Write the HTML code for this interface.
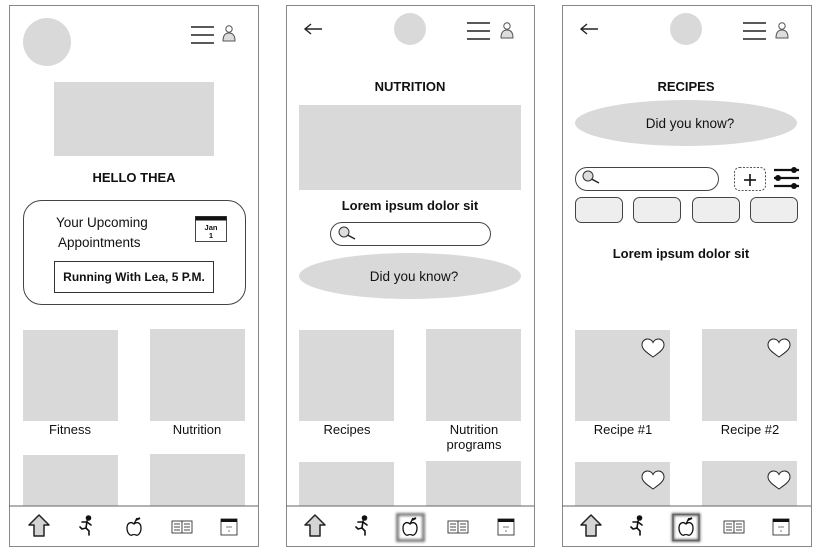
<!DOCTYPE html>
<html><head><meta charset="utf-8"><style>
html,body{margin:0;padding:0;background:#fff;width:819px;height:554px;overflow:hidden}
svg{display:block}
text{font-family:"Liberation Sans",sans-serif;fill:#111}
</style></head><body>
<svg width="819" height="554" viewBox="0 0 819 554" xmlns="http://www.w3.org/2000/svg">
<defs>
<filter id="bl" x="-50%" y="-50%" width="200%" height="200%"><feGaussianBlur stdDeviation="1.2"/></filter>
<g id="ham"><line x1="0" y1="0" x2="23" y2="0" stroke="#222" stroke-width="1.6"/><line x1="0" y1="8" x2="23" y2="8" stroke="#222" stroke-width="1.6"/><line x1="0" y1="16" x2="23" y2="16" stroke="#222" stroke-width="1.6"/></g>
<g id="person"><circle cx="0" cy="-6" r="3.2" fill="#fff" stroke="#555" stroke-width="1"/><path d="M-6,6 Q-6,-2 0,-2 Q6,-2 6,6 Z" fill="#ddd" stroke="#555" stroke-width="1"/></g>
<g id="back"><line x1="0" y1="0" x2="17" y2="0" stroke="#222" stroke-width="1.4"/><polyline points="6,-5 0,0 6,5" fill="none" stroke="#222" stroke-width="1.4"/></g>
<g id="house"><path d="M0,-11 L10,-1 L5,-1 L5,10 L-5,10 L-5,-1 L-10,-1 Z" fill="#d4d4d4" stroke="#222" stroke-width="1.5" stroke-linejoin="round"/></g>
<g id="run" stroke="#111" stroke-width="1.6" fill="none" stroke-linecap="round"><circle cx="1.5" cy="-8" r="2" fill="#111"/><line x1="0" y1="-5" x2="-1" y2="2"/><polyline points="-5,-4 0,-4 4,-1"/><polyline points="-1,2 -5,3 -7,1"/><polyline points="-1,2 2,5 2,9"/></g>
<g id="apple" fill="none" stroke="#111" stroke-width="1.3"><path d="M0,-3 C-3,-6 -7,-4 -7,1 C-7,6 -4,9 -2,8 C-1,7.5 1,7.5 2,8 C4,9 7,6 7,1 C7,-4 3,-6 0,-3 Z"/><line x1="0" y1="-3" x2="3" y2="-9"/><path d="M2,-7 L6,-9" stroke-width="2"/></g>
<g id="book" fill="#fff" stroke="#333" stroke-width="0.9"><rect x="-10" y="-6" width="10" height="12"/><rect x="0" y="-6" width="10" height="12"/><line x1="-8" y1="-3" x2="-2" y2="-3"/><line x1="-8" y1="0" x2="-2" y2="0"/><line x1="-8" y1="3" x2="-2" y2="3"/><line x1="2" y1="-3" x2="8" y2="-3"/><line x1="2" y1="0" x2="8" y2="0"/><line x1="2" y1="3" x2="8" y2="3"/></g>
<g id="cal"><rect x="-8" y="-8" width="16" height="16" fill="#fff" stroke="#333" stroke-width="0.9"/><rect x="-8" y="-8" width="16" height="3" fill="#111"/><line x1="-3" y1="0" x2="3" y2="0" stroke="#555" stroke-width="0.8"/><line x1="0" y1="3" x2="0" y2="5" stroke="#555" stroke-width="0.8"/></g>
<g id="heart"><path d="M0,9 C-4,6 -11,2 -11,-3 C-11,-7 -8,-9 -5.5,-9 C-3,-9 -1,-7.5 0,-5.5 C1,-7.5 3,-9 5.5,-9 C8,-9 11,-7 11,-3 C11,2 4,6 0,9 Z" fill="#fff" stroke="#222" stroke-width="1"/></g>
<g id="mag"><circle cx="0" cy="0" r="5" fill="#ddd" stroke="#333" stroke-width="1"/><line x1="3.5" y1="3" x2="11" y2="7" stroke="#222" stroke-width="1.4"/></g>
</defs>

<!-- Frame 1 -->
<rect x="9.5" y="5.5" width="249" height="541" fill="#fff" stroke="#888" stroke-width="1"/>
<circle cx="47" cy="42" r="24" fill="#d9d9d9"/>
<use href="#ham" x="191" y="27"/>
<use href="#person" x="229" y="35"/>
<rect x="54" y="82" width="160" height="74" fill="#d9d9d9"/>
<text x="134" y="182" font-size="13" font-weight="bold" text-anchor="middle">HELLO THEA</text>
<rect x="23.5" y="200.5" width="222" height="104" rx="18" fill="#fff" stroke="#444" stroke-width="1"/>
<text x="56" y="227" font-size="13.5">Your Upcoming</text>
<text x="58" y="247" font-size="13.5">Appointments</text>
<rect x="195.5" y="216.5" width="31" height="25" fill="#fff" stroke="#333" stroke-width="0.9"/>
<rect x="195.5" y="216.5" width="31" height="4" fill="#111"/>
<text x="211" y="230" font-size="7.5" font-weight="bold" text-anchor="middle">Jan</text>
<text x="211" y="238" font-size="7.5" font-weight="bold" text-anchor="middle">1</text>
<rect x="54.5" y="261.5" width="159" height="31" fill="#fff" stroke="#333" stroke-width="1"/>
<text x="134" y="281" font-size="12" font-weight="bold" text-anchor="middle">Running With Lea, 5 P.M.</text>
<rect x="23" y="330" width="95" height="91" fill="#d9d9d9"/>
<rect x="150" y="329" width="95" height="92" fill="#d9d9d9"/>
<text x="70" y="434" font-size="13" text-anchor="middle">Fitness</text>
<text x="197" y="434" font-size="13" text-anchor="middle">Nutrition</text>
<rect x="23" y="455" width="95" height="51" fill="#d9d9d9"/>
<rect x="150" y="454" width="95" height="52" fill="#d9d9d9"/>
<line x1="9" y1="506" x2="258" y2="506" stroke="#666" stroke-width="1"/>
<use href="#house" x="39" y="526"/>
<use href="#run" x="87" y="526"/>
<use href="#apple" x="134" y="527"/>
<use href="#book" x="182" y="527"/>
<use href="#cal" x="229" y="527"/>

<!-- Frame 2 -->
<rect x="286.5" y="5.5" width="248" height="541" fill="#fff" stroke="#888" stroke-width="1"/>
<use href="#back" x="305" y="29"/>
<circle cx="410" cy="29" r="16" fill="#d9d9d9"/>
<use href="#ham" x="467" y="23"/>
<use href="#person" x="507" y="32"/>
<text x="410" y="91" font-size="13" font-weight="bold" text-anchor="middle">NUTRITION</text>
<rect x="299" y="105" width="222" height="85" fill="#d9d9d9"/>
<text x="410" y="210" font-size="13" font-weight="bold" text-anchor="middle">Lorem ipsum dolor sit</text>
<rect x="330.5" y="222.5" width="160" height="23" rx="11.5" fill="#fff" stroke="#444" stroke-width="1"/>
<use href="#mag" x="344" y="232"/>
<ellipse cx="410" cy="276" rx="111" ry="23" fill="#d9d9d9"/>
<text x="414" y="281" font-size="13.5" text-anchor="middle">Did you know?</text>
<rect x="299" y="330" width="95" height="91" fill="#d9d9d9"/>
<rect x="426" y="329" width="95" height="92" fill="#d9d9d9"/>
<text x="347" y="434" font-size="13" text-anchor="middle">Recipes</text>
<text x="474" y="434" font-size="13" text-anchor="middle">Nutrition</text>
<text x="474" y="449" font-size="13" text-anchor="middle">programs</text>
<rect x="299" y="462" width="95" height="44" fill="#d9d9d9"/>
<rect x="426" y="461" width="95" height="45" fill="#d9d9d9"/>
<line x1="286" y1="506" x2="534" y2="506" stroke="#666" stroke-width="1"/>
<use href="#house" x="315" y="526"/>
<use href="#run" x="363" y="526"/>
<rect x="397.5" y="514.5" width="26" height="26" fill="none" stroke="#777" stroke-width="3" filter="url(#bl)"/>
<use href="#apple" x="410" y="527"/>
<use href="#book" x="458" y="527"/>
<use href="#cal" x="506" y="527"/>

<!-- Frame 3 -->
<rect x="562.5" y="5.5" width="249" height="541" fill="#fff" stroke="#888" stroke-width="1"/>
<use href="#back" x="581" y="29"/>
<circle cx="686" cy="29" r="16" fill="#d9d9d9"/>
<use href="#ham" x="743" y="23"/>
<use href="#person" x="782" y="32"/>
<text x="686" y="91" font-size="13" font-weight="bold" text-anchor="middle">RECIPES</text>
<ellipse cx="686" cy="123" rx="111" ry="23" fill="#d9d9d9"/>
<text x="690" y="128" font-size="13.5" text-anchor="middle">Did you know?</text>
<rect x="575.5" y="167.5" width="143" height="23" rx="11.5" fill="#fff" stroke="#444" stroke-width="1"/>
<use href="#mag" x="588" y="176"/>
<rect x="734.5" y="167.5" width="31" height="23" rx="5" fill="#fff" stroke="#555" stroke-width="1" stroke-dasharray="2,1.5"/>
<line x1="744" y1="180" x2="756" y2="180" stroke="#111" stroke-width="1.6"/>
<line x1="750" y1="174" x2="750" y2="186" stroke="#111" stroke-width="1.6"/>
<g stroke="#111" stroke-width="2.2"><line x1="774" y1="170" x2="799" y2="170"/><line x1="774" y1="178" x2="799" y2="178"/><line x1="774" y1="186" x2="799" y2="186"/></g>
<circle cx="794" cy="170" r="3" fill="#111"/><circle cx="778" cy="178" r="3" fill="#111"/><circle cx="794" cy="186" r="3" fill="#111"/>
<g fill="#eee" stroke="#444" stroke-width="1">
<rect x="575.5" y="197.5" width="47" height="25" rx="6"/>
<rect x="633.5" y="197.5" width="47" height="25" rx="6"/>
<rect x="692.5" y="197.5" width="47" height="25" rx="6"/>
<rect x="750.5" y="197.5" width="47" height="25" rx="6"/>
</g>
<text x="681" y="258" font-size="13" font-weight="bold" text-anchor="middle">Lorem ipsum dolor sit</text>
<rect x="575" y="330" width="95" height="91" fill="#d9d9d9"/>
<rect x="702" y="329" width="95" height="92" fill="#d9d9d9"/>
<use href="#heart" x="653" y="348"/>
<use href="#heart" x="779" y="348"/>
<text x="623" y="434" font-size="13" text-anchor="middle">Recipe #1</text>
<text x="750" y="434" font-size="13" text-anchor="middle">Recipe #2</text>
<rect x="575" y="462" width="95" height="44" fill="#d9d9d9"/>
<rect x="702" y="461" width="95" height="45" fill="#d9d9d9"/>
<use href="#heart" x="653" y="480"/>
<use href="#heart" x="779" y="480"/>
<line x1="562" y1="506" x2="811" y2="506" stroke="#666" stroke-width="1"/>
<use href="#house" x="591" y="526"/>
<use href="#run" x="638" y="526"/>
<rect x="673" y="514.5" width="26" height="26" fill="none" stroke="#777" stroke-width="3" filter="url(#bl)"/>
<rect x="673" y="514.5" width="26" height="26" fill="none" stroke="#666" stroke-width="1.5"/>
<use href="#apple" x="686" y="527"/>
<use href="#book" x="734" y="527"/>
<use href="#cal" x="781" y="527"/>
</svg>
</body></html>
